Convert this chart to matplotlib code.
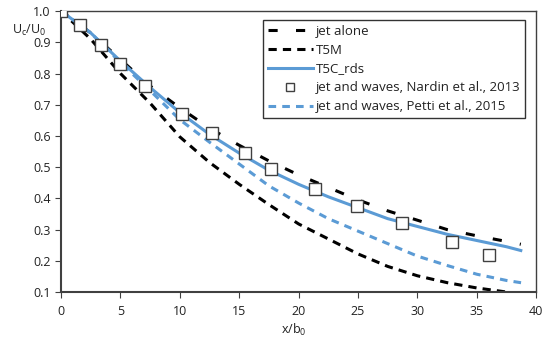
import matplotlib
matplotlib.use("Agg")
import matplotlib.pyplot as plt

plt.rcParams['font.family'] = ['Open Sans', 'DejaVu Sans']

# x/b0 positions for the model curves
x_curve = [0, 2.5, 5, 7.5, 10, 12.5, 15, 17.5, 20, 22.5, 25, 27.5, 30, 32.5, 35, 37.5, 38.7]
jet_alone = [1.0, 0.93, 0.845, 0.76, 0.69, 0.625, 0.57, 0.52, 0.475, 0.435, 0.395, 0.36, 0.33, 0.30, 0.28, 0.262, 0.253]
t5m = [1.0, 0.91, 0.80, 0.705, 0.597, 0.515, 0.445, 0.38, 0.318, 0.27, 0.222, 0.182, 0.152, 0.13, 0.113, 0.10, 0.092]
t5c_rds = [1.0, 0.93, 0.84, 0.755, 0.675, 0.605, 0.545, 0.49, 0.445, 0.405, 0.37, 0.335, 0.31, 0.285, 0.265, 0.245, 0.233]

x_petti = [0, 2.5, 5, 7.5, 10, 12.5, 15, 17.5, 20, 22.5, 25, 27.5, 30, 32.5, 35, 37.5, 39.2]
petti = [1.0, 0.93, 0.835, 0.745, 0.652, 0.58, 0.51, 0.44, 0.385, 0.335, 0.295, 0.255, 0.215, 0.185, 0.157, 0.137, 0.127]

x_nardin = [0, 1.6, 3.4, 5.0, 7.1, 10.2, 12.7, 15.5, 17.7, 21.4, 24.9, 28.7, 32.9, 36.0]
nardin = [1.0, 0.955, 0.89, 0.83, 0.76, 0.67, 0.61, 0.545, 0.495, 0.43, 0.375, 0.32, 0.26, 0.22]

x_ticks = [0, 5, 10, 15, 20, 25, 30, 35, 40]
y_ticks = [0.1, 0.2, 0.3, 0.4, 0.5, 0.6, 0.7, 0.8, 0.9, 1.0]

blue = '#5B9BD5'

fig = plt.figure(figsize=(5.5, 3.46), dpi=100)
ax = fig.add_axes([0.111, 0.156, 0.864, 0.812])

ax.plot(x_curve, jet_alone, color='black', lw=2.2, dashes=(3, 6), label='jet alone')
ax.plot(x_curve, t5m, color='black', lw=2.2, dashes=(2.7, 2), label='T5M')
ax.plot(x_curve, t5c_rds, color=blue, lw=2.2, label='T5C_rds')
ax.plot(x_nardin, nardin, ls='none', marker='s', ms=8, mfc='white', mec='#404040',
        mew=1.0, label='jet and waves, Nardin et al., 2013', zorder=5)
ax.plot(x_petti, petti, color=blue, lw=2.2, dashes=(2.5, 2), label='jet and waves, Petti et al., 2015')

ax.set_xlim(0, 40)
ax.set_ylim(0.1, 1.0)
ax.set_xticks(x_ticks)
ax.set_yticks(y_ticks)
ax.set_yticklabels(['%.1f' % v for v in y_ticks])
ax.tick_params(direction='out', length=4, labelsize=9, colors='#404040', labelcolor='#222222')
ax.tick_params(axis='x', pad=5)

for s in ['left', 'bottom']:
    ax.spines[s].set_linewidth(1.5)
    ax.spines[s].set_color('#404040')
for s in ['top', 'right']:
    ax.spines[s].set_linewidth(1.0)
    ax.spines[s].set_color('#404040')

fig.text(0.022, 0.912, r'U$_\mathregular{c}$/U$_\mathregular{0}$', fontsize=9, color='#222222', va='center')
fig.text(0.535, 0.035, r'x/b$_\mathregular{0}$', fontsize=9, color='#222222', ha='center')

leg = ax.legend(loc='upper right', bbox_to_anchor=(0.977, 0.968), fontsize=9.5, frameon=True,
                fancybox=False, edgecolor='black', handlelength=3.4, handletextpad=0.25,
                borderpad=0.35, labelspacing=0.45, markerscale=0.7, borderaxespad=0)
leg.get_frame().set_linewidth(1.0)
for t in leg.get_texts():
    t.set_color('#222222')

fig.savefig('out.png', dpi=100)
